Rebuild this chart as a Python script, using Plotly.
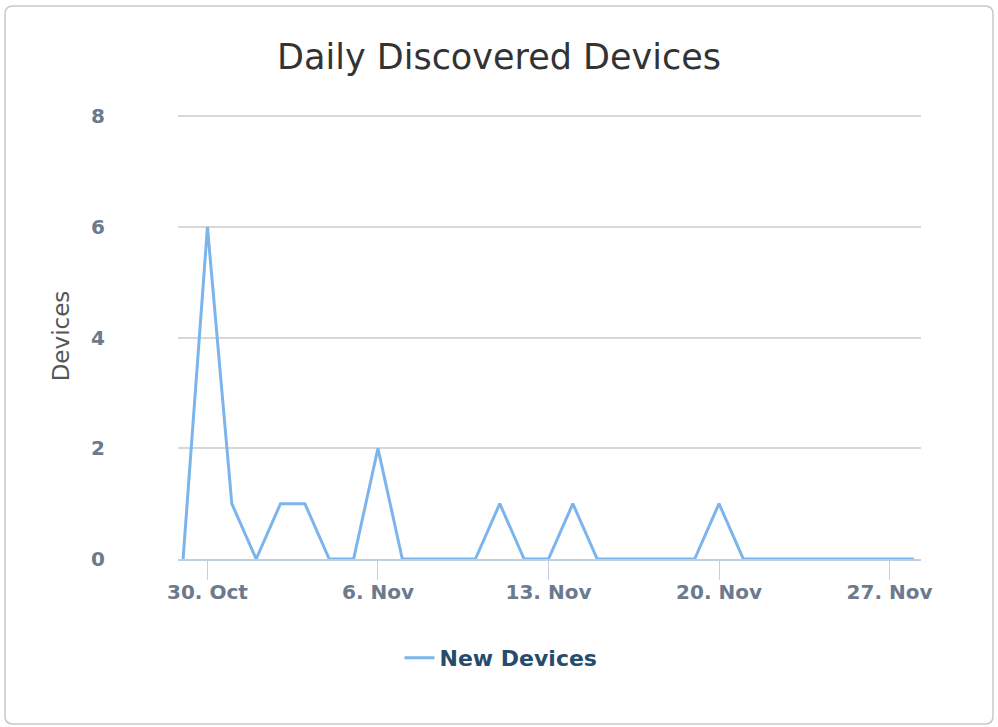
import plotly.graph_objects as go
import pandas as pd

dates = pd.date_range("2017-10-29", "2017-11-28", freq="D")
new_devices = [0, 6, 1, 0, 1, 1, 0, 0, 2, 0, 0, 0, 0, 1, 0, 0, 1,
               0, 0, 0, 0, 0, 1, 0, 0, 0, 0, 0, 0, 0, 0]
tick_dates = ["2017-10-30", "2017-11-06", "2017-11-13", "2017-11-20", "2017-11-27"]
y_ticks = [0, 2, 4, 6, 8]

W, H = 998, 727
Y_TOP = 8.06
L, R, B = 178, 77, 168
zero_px, eight_px = 559, 116
T = int(round(zero_px - (zero_px - eight_px) * Y_TOP / 8))
pw, ph = W - L - R, H - T - B

fig = go.Figure()
fig.add_trace(go.Scatter(
    x=dates, y=new_devices, mode="lines", name="New Devices",
    line=dict(color="#7cb5ec", width=3),
))

def px_x(px):
    return (px - L) / pw

def px_y(py):
    return (H - B - py) / ph

# rounded card border (pixel coords converted to paper)
x0, x1, y0, y1, r = 5, 993, 6, 724, 8
pts = [
    f"M {px_x(x0 + r)},{px_y(y0)}",
    f"L {px_x(x1 - r)},{px_y(y0)}",
    f"Q {px_x(x1)},{px_y(y0)} {px_x(x1)},{px_y(y0 + r)}",
    f"L {px_x(x1)},{px_y(y1 - r)}",
    f"Q {px_x(x1)},{px_y(y1)} {px_x(x1 - r)},{px_y(y1)}",
    f"L {px_x(x0 + r)},{px_y(y1)}",
    f"Q {px_x(x0)},{px_y(y1)} {px_x(x0)},{px_y(y1 - r)}",
    f"L {px_x(x0)},{px_y(y0 + r)}",
    f"Q {px_x(x0)},{px_y(y0)} {px_x(x0 + r)},{px_y(y0)} Z",
]
card_path = " ".join(pts)

fig.update_layout(
    width=W, height=H,
    margin=dict(l=L, r=R, t=T, b=B),
    paper_bgcolor="white", plot_bgcolor="white",
    title=dict(text="Daily Discovered Devices", x=0.5, xanchor="center",
               y=1 - 57 / H, yanchor="middle",
               font=dict(family="DejaVu Sans", size=35, color="#333333")),
    showlegend=True,
    legend=dict(orientation="h", x=px_x(501), xanchor="center",
                y=px_y(658), yanchor="middle",
                font=dict(family="DejaVu Sans", size=22, color="#274b6d", weight="bold"),
                itemwidth=30),
    xaxis=dict(
        type="date",
        range=["2017-10-28 19:00", "2017-11-28 07:00"],
        tickvals=tick_dates, tickformat="%-d. %b",
        showgrid=False, zeroline=False,
        showline=True, linecolor="#C0D0E0", linewidth=2,
        ticks="outside", ticklen=19, tickcolor="#C0D0E0", tickwidth=1,
        ticklabelstandoff=-5,
        tickfont=dict(family="DejaVu Sans", size=20, color="#6b7a8f", weight="bold"),
    ),
    yaxis=dict(
        range=[0, Y_TOP], tickvals=y_ticks,
        showgrid=True, gridcolor="#D8D8D8", gridwidth=1.5,
        zeroline=False, showline=False,
        ticklabelstandoff=72,
        tickfont=dict(family="DejaVu Sans", size=20, color="#6b7a8f", weight="bold"),
        title=dict(text="Devices", standoff=15,
                   font=dict(family="DejaVu Sans", size=23, color="#555555")),
    ),
    shapes=[dict(
        type="path", xref="paper", yref="paper", path=card_path,
        line=dict(color="#C8C8C8", width=1.5), layer="below",
    )],
)

fig.write_html("out.html", config={"displayModeBar": False},
               post_script="document.body.style.margin='0';")
